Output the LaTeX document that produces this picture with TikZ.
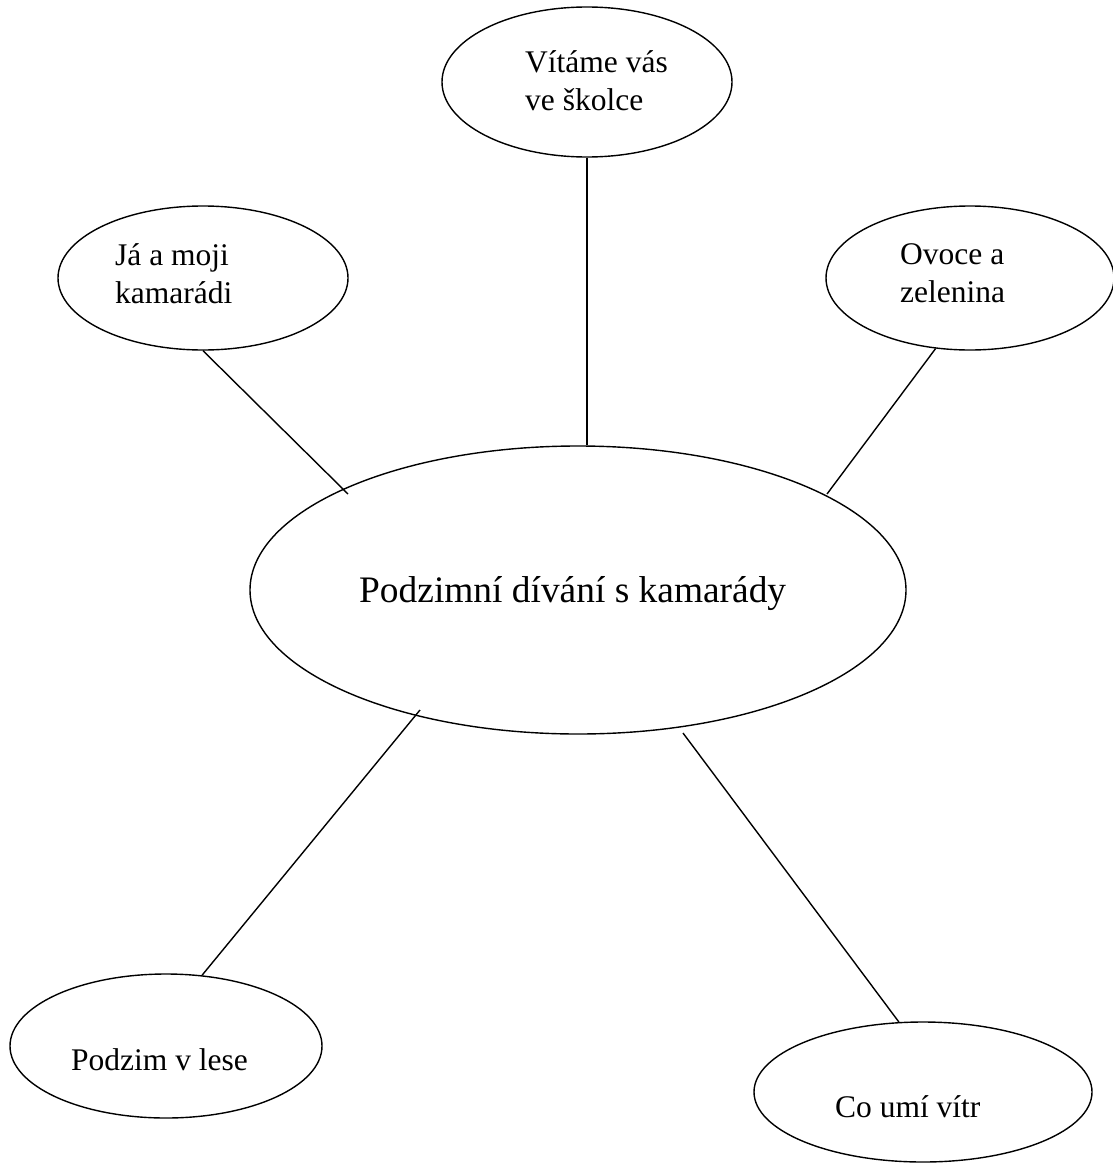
\documentclass[tikz,border=0pt]{standalone}
\usepackage{fontspec}
\setmainfont{Liberation Serif}
\usetikzlibrary{shapes.geometric}
\tikzstyle{bubble} = [ellipse, draw=black, line width=1.4pt, inner sep=0pt]
\tikzstyle{topic} = [anchor=base west, inner sep=0pt, align=left, font=\fontsize{31.5}{38}\selectfont]
\tikzstyle{spoke} = [line width=1.4pt]

\begin{document}
\begin{tikzpicture}[x=1pt, y=-1pt]%
	\useasboundingbox (0,0) rectangle (1113,1164);
	% bubbles
	\node [bubble, minimum width=656pt, minimum height=288pt] (main) at (578,590) {};
	\node [bubble, minimum width=290pt, minimum height=150pt] (top) at (587,82) {};
	\node [bubble, minimum width=290pt, minimum height=144pt] (left) at (203,278) {};
	\node [bubble, minimum width=288pt, minimum height=144pt] (right) at (970,278) {};
	\node [bubble, minimum width=312pt, minimum height=144pt] (lowleft) at (166,1046) {};
	\node [bubble, minimum width=338pt, minimum height=140pt] (lowright) at (923,1092) {};
	% texts (base = last line)
	\node [topic, font=\fontsize{37.4}{44}\selectfont] (maintext) at (359,602) {Podzimní dívání s kamarády};
	\node [topic] (toptext) at (525,110) {Vítáme vás\\ve školce};
	\node [topic] (lefttext) at (115,303) {Já a moji\\kamarádi};
	\node [topic] (righttext) at (900,302) {Ovoce a\\zelenina};
	\node [topic] (lowlefttext) at (71,1070) {Podzim v lese};
	\node [topic] (lowrighttext) at (835,1117) {Co umí vítr};
	% spokes
	\coordinate (mtop) at (587,445);
	\coordinate (mleft) at (348,494);
	\coordinate (mright) at (827,494);
	\coordinate (mlowleft) at (420,710);
	\coordinate (mlowright) at (683,733);
	\draw [spoke] (top.south) -- (mtop);
	\draw [spoke] (left.south) -- (mleft);
	\draw [spoke] (right.244) -- (mright);
	\draw [spoke] (lowleft.63) -- (mlowleft);
	\draw [spoke] (lowright.109) -- (mlowright);
\end{tikzpicture}
\end{document}
